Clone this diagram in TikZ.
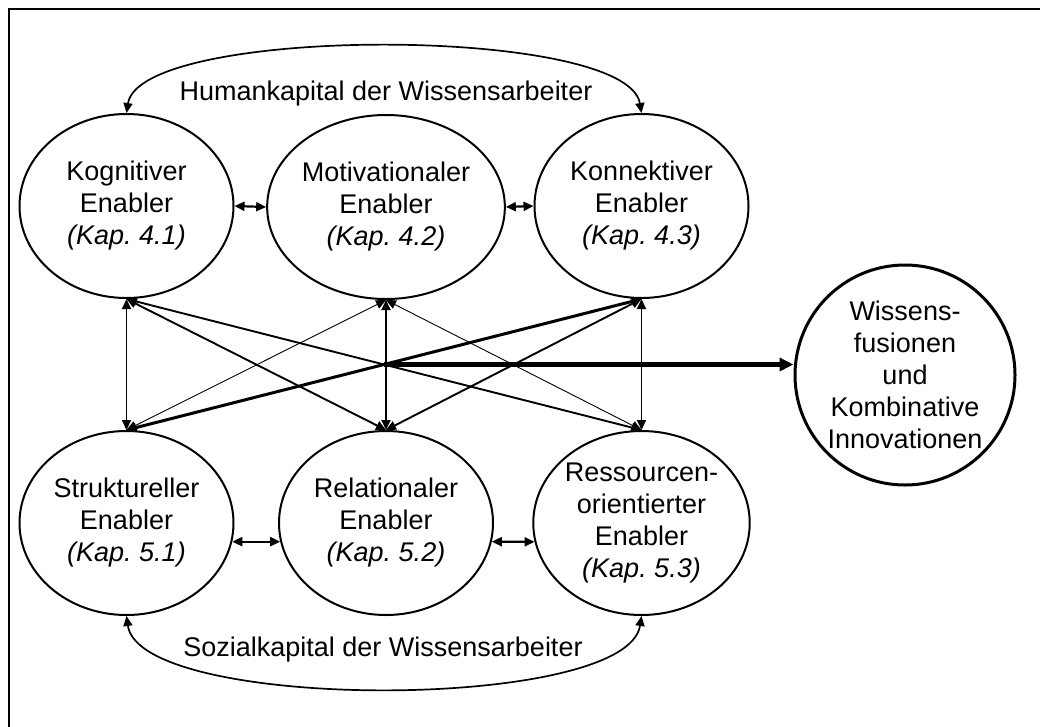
\documentclass[tikz,border=0pt]{standalone}
\usepackage{fontspec}
\setmainfont{Liberation Sans}
\usetikzlibrary{arrows.meta,shapes.geometric}
\frenchspacing
\begin{document}
\begin{tikzpicture}[x=1pt,y=-1pt,
  txt/.style={font=\fontsize{27}{32}\selectfont, align=center, inner sep=0pt},
  enabler/.style={txt, draw, ellipse, line width=2pt,
    minimum width=214pt, minimum height=184pt},
  goal/.style={txt, draw, circle, line width=3pt, minimum size=220pt},
  link/.style={{Triangle[length=10pt,width=9pt]}-{Triangle[length=10pt,width=9pt]}, line width=1.9pt},
  thinlink/.style={link, line width=0.9pt},
  boldlink/.style={link, line width=3pt},
  pair/.style={link, line width=2.2pt},
  curved/.style={link, line width=1.7pt},
  mainarrow/.style={-{Triangle[length=14pt,width=13pt]}, line width=4.5pt}
]
\useasboundingbox (0,0) rectangle (1040,726);
% frame, open towards the right and bottom page edge
\draw[line width=2.5pt] (9,760) -- (9,9) -- (1060,9);

% human capital enablers
\node[enabler] (k1) at (126.5,206) {Kognitiver\\Enabler\\\textit{(Kap. 4.1)}};
\node[enabler] (k2) at (386,207) {Motivationaler\\Enabler\\\textit{(Kap. 4.2)}};
\node[enabler] (k3) at (641.5,206) {Konnektiver\\Enabler\\\textit{(Kap. 4.3)}};

% social capital enablers
\node[enabler] (s1) at (126.5,523) {Struktureller\\Enabler\\\textit{(Kap. 5.1)}};
\node[enabler] (s2) at (386,523) {Relationaler\\Enabler\\\textit{(Kap. 5.2)}};
\node[enabler] (s3) at (641.5,523) {Ressourcen-\\orientierter\\Enabler\\\textit{(Kap. 5.3)}};

% outcome
\node[goal] (wf) at (905,375) {Wissens-\\fusionen\\und\\Kombinative\\Innovationen};

% labels of the two capital groups
\node[txt, anchor=base] (hk) at (386,100) {Humankapital der Wissensarbeiter};
\node[txt, anchor=base] (sk) at (383,656) {Sozialkapital der Wissensarbeiter};

% arcs spanning each group
\draw[curved] (k1.north) .. controls (140,25) and (627,25) .. (k3.north);
\draw[curved] (s1.south) .. controls (140,712) and (627,712) .. (s3.south);

% neighbours within a row
\draw[pair] (k1.east) -- (k2.west);
\draw[pair] (k2.east) -- (k3.west);
\draw[pair] (s1.-10.8) -- (s2.190.8);
\draw[pair] (s2.-10.8) -- (s3.190.8);

% links between the rows
\draw[link] (k1.south) -- (s1.north);
\draw[link] (k2.south) -- (s2.north);
\draw[link] (k3.south) -- (s3.north);
\draw[link] (k1.south) -- (s2.north);
\draw[link] (k3.south) -- (s2.north);
\draw[thinlink] (k2.south) -- (s1.north);
\draw[thinlink] (k2.south) -- (s3.north);
\draw[link] (k1.south) -- (s3.north);
\draw[boldlink] (s1.north) -- (k3.south);

% combined effect
\coordinate (hub) at (intersection of k1.south--s3.north and s1.north--k3.south);
\draw[mainarrow] (hub) -- (hub -| wf.west);
\end{tikzpicture}
\end{document}
